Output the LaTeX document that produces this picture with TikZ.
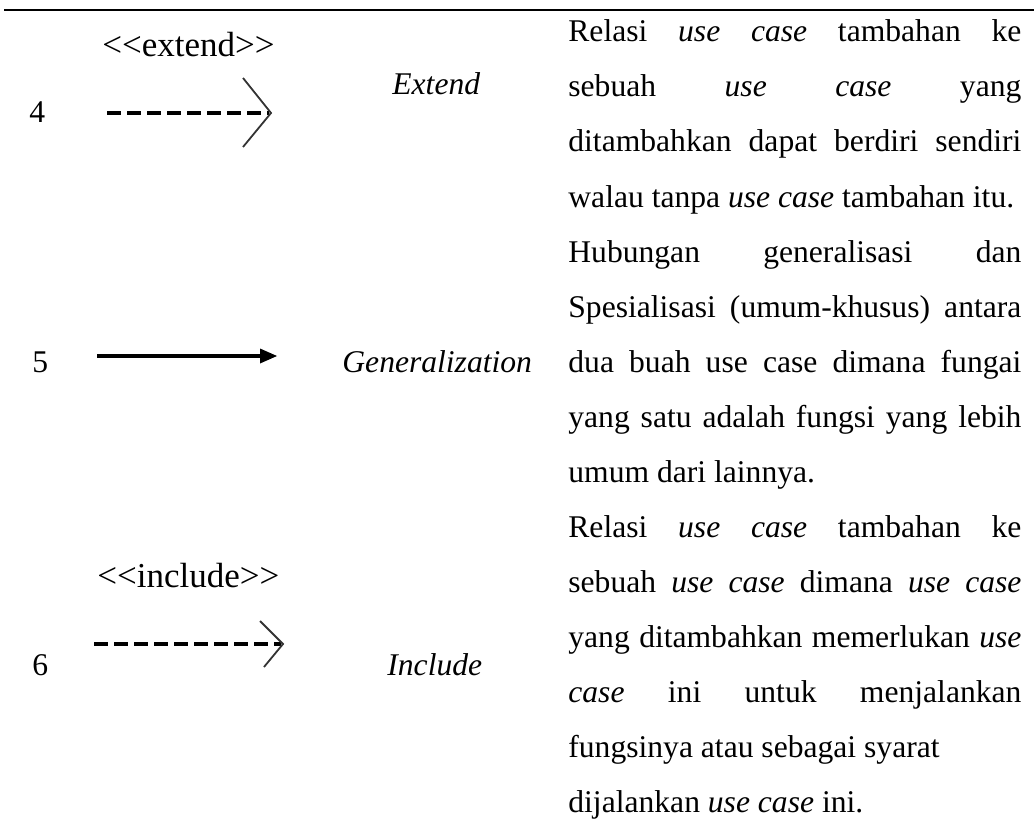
\documentclass[tikz,border=0pt]{standalone}
\usepackage{fontspec}
\setmainfont{Liberation Serif}
% one justified line of the description column
\newcommand\jline[1]{\makebox[226.5pt][s]{#1}}
\begin{document}
\begin{tikzpicture}[x=0.5pt,y=-0.5pt,
  body/.style={inner sep=0pt, anchor=base west, font=\fontsize{15.8pt}{18pt}\selectfont},
  stereo/.style={inner sep=0pt, anchor=base west, font=\fontsize{17.5pt}{20pt}\selectfont},
  dashline/.style={line width=1.6pt, dash pattern=on 7pt off 3pt},
  solidline/.style={line width=1.6pt},
  chevron/.style={line width=0.9pt, black!80, line join=miter},
  headtip/.style={fill=black, draw=none},
  rule/.style={line width=1pt}
  ]
\useasboundingbox (0,0) rectangle (1036,834);

% top rule of the table
\coordinate (ruleL) at (4,10);
\coordinate (ruleR) at (1034,10);
\draw[rule] (ruleL) -- (ruleR);

% ---- row 4 : extend ----
\node[body] (n4) at (29,123) {4};
\node[stereo] (st4) at (102,57) {<{}<extend>{}>};
\coordinate (e4a) at (107,113);
\coordinate (e4b) at (269,113);
\draw[dashline] (e4a) -- (e4b);
\coordinate (c4t) at (243,78);
\coordinate (c4m) at (271,113);
\coordinate (c4b) at (243,147);
\draw[chevron] (c4t) -- (c4m) -- (c4b);
\node[body] (name4) at (392,95) {\textit{Extend}};

% ---- row 5 : generalization ----
\node[body] (n5) at (32,372) {5};
\coordinate (g5a) at (97,356);
\coordinate (g5b) at (262,356);
\draw[solidline] (g5a) -- (g5b);
\coordinate (h5t) at (260,348.5);
\coordinate (h5m) at (277,356);
\coordinate (h5b) at (260,363.5);
\fill[headtip] (h5t) -- (h5m) -- (h5b) -- cycle;
\node[body] (name5) at (342,372) {\textit{Generalization}};

% ---- row 6 : include ----
\node[body] (n6) at (32,675) {6};
\node[stereo] (st6) at (97,587) {<{}<include>{}>};
\coordinate (i6a) at (94,644);
\coordinate (i6b) at (281,644);
\draw[dashline] (i6a) -- (i6b);
\coordinate (c6t) at (260,621);
\coordinate (c6m) at (283,644);
\coordinate (c6b) at (264,667);
\draw[chevron] (c6t) -- (c6m) -- (c6b);
\node[body] (name6) at (387,675) {\textit{Include}};

% ---- description column ----
\node[body] (d1)  at (568,42)  {\jline{Relasi \textit{use case} tambahan ke}};
\node[body] (d2)  at (568,97)  {\jline{sebuah \textit{use case} yang}};
\node[body] (d3)  at (568,152) {\jline{ditambahkan dapat berdiri sendiri}};
\node[body] (d4)  at (568,207) {walau tanpa \textit{use case} tambahan itu.};
\node[body] (d5)  at (568,262) {\jline{Hubungan generalisasi dan}};
\node[body] (d6)  at (568,317) {\jline{Spesialisasi (umum-khusus) antara}};
\node[body] (d7)  at (568,372) {\jline{dua buah use case dimana fungai}};
\node[body] (d8)  at (568,427) {\jline{yang satu adalah fungsi yang lebih}};
\node[body] (d9)  at (568,482) {umum dari lainnya.};
\node[body] (d10) at (568,537) {\jline{Relasi \textit{use case} tambahan ke}};
\node[body] (d11) at (568,592) {\jline{sebuah \textit{use case} dimana \textit{use case}}};
\node[body] (d12) at (568,647) {\jline{yang ditambahkan memerlukan \textit{use}}};
\node[body] (d13) at (568,702) {\jline{\textit{case} ini untuk menjalankan}};
\node[body] (d14) at (568,757) {fungsinya atau sebagai syarat};
\node[body] (d15) at (568,812) {dijalankan \textit{use case} ini.};
\end{tikzpicture}
\end{document}
